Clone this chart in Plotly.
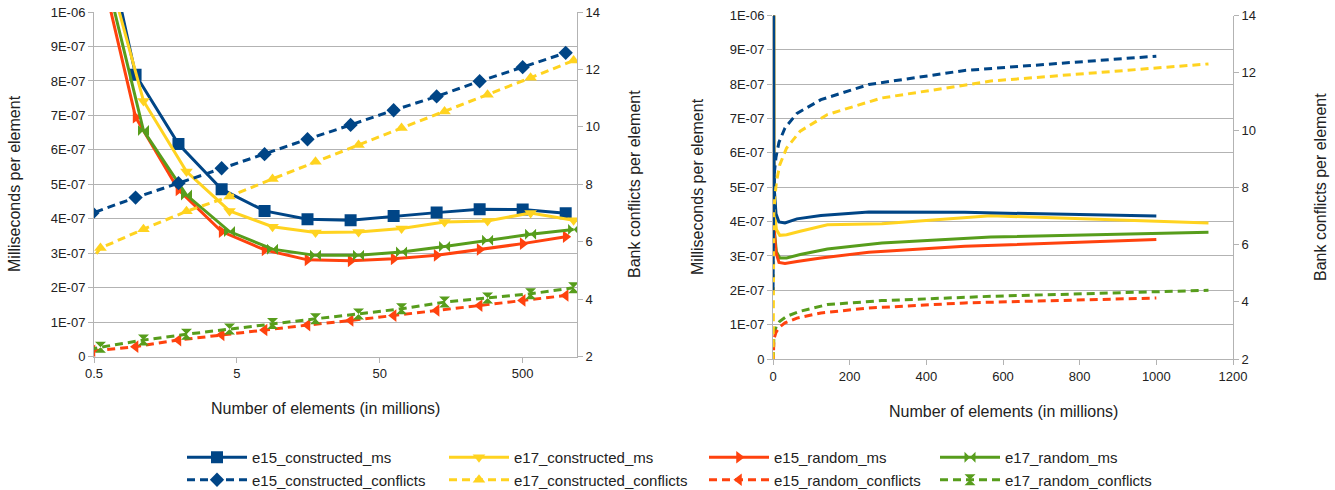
import plotly.graph_objects as go

# ---------------- data ----------------
e15_x = [0.122, 0.244, 0.488, 0.977, 1.95, 3.91, 7.81, 15.6, 31.25, 62.5, 125, 250, 500, 1000]
e17_x = [0.139, 0.278, 0.555, 1.11, 2.22, 4.44, 8.88, 17.75, 35.5, 71, 142, 284, 568, 1136]

e15_constructed_ms = [4.0e-6, 2.2e-6, 1.39e-6, 8.18e-7, 6.17e-7, 4.86e-7, 4.23e-7, 3.99e-7, 3.96e-7,
                      4.08e-7, 4.18e-7, 4.28e-7, 4.27e-7, 4.16e-7]
e17_constructed_ms = [3.5e-6, 2.0e-6, 1.2e-6, 7.42e-7, 5.37e-7, 4.23e-7, 3.77e-7, 3.60e-7, 3.62e-7,
                      3.72e-7, 3.91e-7, 3.94e-7, 4.17e-7, 3.96e-7]
e15_random_ms = [3.5e-6, 2.0e-6, 1.23e-6, 6.95e-7, 4.84e-7, 3.63e-7, 3.10e-7, 2.81e-7, 2.78e-7,
                 2.84e-7, 2.94e-7, 3.11e-7, 3.28e-7, 3.48e-7]
e17_random_ms = [3.4e-6, 1.9e-6, 1.17e-6, 6.56e-7, 4.69e-7, 3.63e-7, 3.12e-7, 2.94e-7, 2.94e-7,
                 3.04e-7, 3.20e-7, 3.38e-7, 3.55e-7, 3.69e-7]

e15_constructed_conflicts = [4.4, 5.6, 7.0, 7.54, 8.04, 8.56, 9.05, 9.57, 10.07, 10.58, 11.06, 11.59, 12.08, 12.58]
e17_constructed_conflicts = [1.5, 3.8, 5.78, 6.44, 7.06, 7.58, 8.19, 8.79, 9.37, 9.96, 10.54, 11.12, 11.71, 12.31]
e15_random_conflicts = [1.4, 1.9, 2.2, 2.35, 2.58, 2.76, 2.93, 3.10, 3.26, 3.43, 3.61, 3.78, 3.96, 4.13]
e17_random_conflicts = [1.5, 2.0, 2.33, 2.58, 2.78, 2.96, 3.16, 3.32, 3.49, 3.67, 3.90, 4.04, 4.19, 4.40]

ms_ticks = [0, 1e-7, 2e-7, 3e-7, 4e-7, 5e-7, 6e-7, 7e-7, 8e-7, 9e-7, 1e-6]
ms_tick_labels = ["0", "1E-07", "2E-07", "3E-07", "4E-07", "5E-07", "6E-07", "7E-07", "8E-07", "9E-07", "1E-06"]
conf_ticks = [2, 4, 6, 8, 10, 12, 14]
log_ticks = [0.5, 5, 50, 500]
log_tick_labels = ["0.5", "5", "50", "500"]
lin_ticks = [0, 200, 400, 600, 800, 1000, 1200]

BLUE, YELLOW, RED, GREEN = "#004586", "#ffd320", "#ff420e", "#579d1c"

series = [
    # name, x, y, color, dashed, symbol, legend
    ("e15_constructed_ms", e15_x, e15_constructed_ms, BLUE, False, "square", "legend"),
    ("e15_constructed_conflicts", e15_x, e15_constructed_conflicts, BLUE, True, "diamond", "legend"),
    ("e17_constructed_ms", e17_x, e17_constructed_ms, YELLOW, False, "triangle-down", "legend2"),
    ("e17_constructed_conflicts", e17_x, e17_constructed_conflicts, YELLOW, True, "triangle-up", "legend2"),
    ("e15_random_ms", e15_x, e15_random_ms, RED, False, "triangle-right", "legend3"),
    ("e15_random_conflicts", e15_x, e15_random_conflicts, RED, True, "triangle-left", "legend3"),
    ("e17_random_ms", e17_x, e17_random_ms, GREEN, False, "bowtie", "legend4"),
    ("e17_random_conflicts", e17_x, e17_random_conflicts, GREEN, True, "hourglass", "legend4"),
]

fig = go.Figure()
FONT = "Liberation Sans, Arial, sans-serif"
DASH = "8px,5px"

# left chart (log x, with markers) - carries the legend
for name, xs, ys, col, dashed, sym, leg in series:
    is_conf = name.endswith("conflicts")
    fig.add_trace(go.Scatter(
        x=xs, y=ys, name=name, mode="lines+markers",
        line=dict(color=col, width=3, dash=DASH if dashed else "solid"),
        marker=dict(symbol=sym, size=12 if sym == "square" else 11, color=col, line=dict(width=0)),
        xaxis="x", yaxis="y2" if is_conf else "y",
        legend=leg,
    ))

# right chart (linear x, lines only)
for name, xs, ys, col, dashed, sym, leg in reversed(series):
    is_conf = name.endswith("conflicts")
    fig.add_trace(go.Scatter(
        x=xs, y=ys, name=name, mode="lines", showlegend=False,
        line=dict(color=col, width=3, dash=DASH if dashed else "solid"),
        xaxis="x2", yaxis="y4" if is_conf else "y3",
    ))

GRID = "#b3b3b3"
TICKFONT = dict(family=FONT, size=13, color="#222")
common_y = dict(showline=True, linecolor=GRID, linewidth=1, ticks="outside", ticklen=5,
                tickcolor=GRID, tickfont=TICKFONT, zeroline=False, automargin=False)
common_x = dict(showgrid=False, showline=True, linecolor=GRID, ticks="outside", ticklen=5,
                tickcolor=GRID, tickfont=TICKFONT, zeroline=False, automargin=False)

W, H = 1335, 490
L_DOM = [94 / W, 577 / W]
R_DOM = [773 / W, 1233 / W]
L_Y = [1 - 356.7 / H, 1 - 12 / H]
R_Y = [1 - 359 / H, 1 - 15.5 / H]

fig.update_layout(
    width=W, height=H,
    margin=dict(l=0, r=0, t=0, b=0, autoexpand=False),
    paper_bgcolor="white", plot_bgcolor="white",
    font=dict(family=FONT, size=13, color="#222"),
    xaxis=dict(type="log", domain=L_DOM, anchor="y", range=[-0.30103, 3.0792],
               tickvals=log_ticks, ticktext=log_tick_labels, **common_x),
    yaxis=dict(domain=L_Y, anchor="x", range=[0, 1e-6], tickvals=ms_ticks, ticktext=ms_tick_labels,
               showgrid=True, gridcolor=GRID, gridwidth=1, **common_y),
    yaxis2=dict(overlaying="y", side="right", anchor="x", range=[2, 14], tickvals=conf_ticks,
                showgrid=False, **common_y),
    xaxis2=dict(domain=R_DOM, anchor="y3", range=[0, 1200], tickvals=lin_ticks, **common_x),
    yaxis3=dict(domain=R_Y, anchor="x2", range=[0, 1e-6], tickvals=ms_ticks, ticktext=ms_tick_labels,
                showgrid=True, gridcolor=GRID, gridwidth=1, **common_y),
    yaxis4=dict(overlaying="y3", side="right", anchor="x2", range=[2, 14], tickvals=conf_ticks,
                showgrid=False, **common_y),
)

LEGFONT = dict(family=FONT, size=15, color="#222")
leg_common = dict(orientation="v", yanchor="top", xanchor="left", font=LEGFONT,
                  bgcolor="rgba(0,0,0,0)", itemwidth=60, tracegroupgap=0)
leg_y = 1 - 441 / H
fig.update_layout(
    legend=dict(x=182 / W, y=leg_y, **leg_common),
    legend2=dict(x=444 / W, y=leg_y, **leg_common),
    legend3=dict(x=704 / W, y=leg_y, **leg_common),
    legend4=dict(x=935 / W, y=leg_y, **leg_common),
)

TITLEFONT = dict(family=FONT, size=16, color="#222")
ann = [
    dict(text="Milliseconds per element", x=14 / W, y=1 - 184 / H, textangle=-90),
    dict(text="Bank conflicts per element", x=634 / W, y=1 - 184 / H, textangle=-90),
    dict(text="Number of elements (in millions)", x=325 / W, y=1 - 408 / H, textangle=0),
    dict(text="Milliseconds per element", x=697 / W, y=1 - 187 / H, textangle=-90),
    dict(text="Bank conflicts per element", x=1320 / W, y=1 - 187 / H, textangle=-90),
    dict(text="Number of elements (in millions)", x=1003 / W, y=1 - 411 / H, textangle=0),
]
for a in ann:
    fig.add_annotation(xref="paper", yref="paper", showarrow=False, font=TITLEFONT,
                       xanchor="center", yanchor="middle", **a)

fig.write_html("out.html", config={"displayModeBar": False},
               post_script="document.body.style.margin='0';document.body.style.overflow='hidden';")
